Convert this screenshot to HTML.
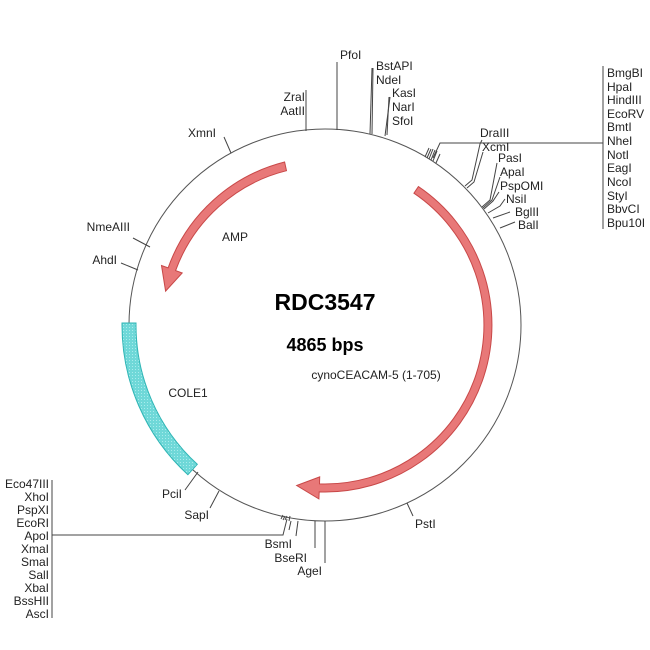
<!DOCTYPE html>
<html><head><meta charset="utf-8"><style>
html,body{margin:0;padding:0;background:#fff;}
svg{display:block;}
text{font-family:"Liberation Sans",Arial,sans-serif;font-size:12px;fill:#222;}
</style></head><body>
<svg width="650" height="650" viewBox="0 0 650 650" xmlns="http://www.w3.org/2000/svg">
<defs>
<pattern id="dots" width="3" height="3" patternUnits="userSpaceOnUse">
<rect width="3" height="3" fill="#6fd8d8"/><rect width="1" height="1" fill="#a8ecec"/>
</pattern>
</defs>
<circle cx="325" cy="325" r="196" fill="none" stroke="#555" stroke-width="1"/>

<path d="M284.6,162 A167,167 0 0 0 168.1,267.9 L161.5,265.5 L165.6,291.1 L182.2,273 L175.6,270.6 A159,159 0 0 1 286.5,170.7 Z" fill="#e87878" stroke="#c84848" stroke-width="1"/>
<path d="M418.4,186.6 A167,167 0 0 1 319.2,491.9 L318.9,498.9 L296.7,485.5 L319.7,476.9 L319.5,483.9 A159,159 0 0 0 413.9,193.2 Z" fill="#e87878" stroke="#c84848" stroke-width="1"/>
<path d="M122,323 A203,203 0 0 0 187.9,474.7 L197.3,464.3 A189,189 0 0 1 136,323 Z" fill="url(#dots)" stroke="#2fb5b5" stroke-width="1"/>

<g stroke="#444" stroke-width="1" fill="none">
<line x1="337" y1="62" x2="337" y2="130"/>
<line x1="306" y1="90" x2="306" y2="131"/>
<line x1="372" y1="68" x2="370" y2="134"/>
<line x1="373" y1="68" x2="372" y2="134"/>
<line x1="389" y1="97" x2="387" y2="135"/>
<line x1="390" y1="97" x2="385" y2="136"/>
<line x1="231" y1="153" x2="224" y2="137"/>
<line x1="425" y1="157" x2="429" y2="148"/>
<line x1="427" y1="158" x2="431" y2="149"/>
<line x1="429" y1="159" x2="433" y2="149"/>
<line x1="431" y1="160" x2="435" y2="150"/>
<line x1="433" y1="161" x2="437" y2="151"/>
<line x1="436" y1="163" x2="440" y2="154"/>
<polyline points="433,158 440,143 603,143"/>
<line x1="603" y1="66" x2="603" y2="229"/>
<polyline points="465,186 472,180 480,144 482,140"/>
<polyline points="467,188 474,182 483,152"/>
<polyline points="482,207 490,200 497,163"/>
<polyline points="483,208 492,200 500,177"/>
<polyline points="484,209 493,201 499,192"/>
<polyline points="488,213 500,206 505,199"/>
<polyline points="493,218 510,212"/>
<polyline points="500,228 515,222"/>
<line x1="150" y1="247" x2="133" y2="238"/>
<line x1="138" y1="270" x2="121" y2="263"/>
<line x1="198" y1="472" x2="185" y2="490"/>
<line x1="219" y1="491" x2="210" y2="508"/>
<line x1="52" y1="480" x2="52" y2="618"/>
<polyline points="52,535 283,535 287,519"/>
<line x1="281" y1="519" x2="283" y2="515"/>
<line x1="283" y1="520" x2="285" y2="516"/>
<line x1="285" y1="520" x2="287" y2="516"/>
<line x1="289" y1="521" x2="290" y2="516"/>
<line x1="291" y1="521" x2="289" y2="530"/>
<line x1="298" y1="521" x2="296" y2="536"/>
<line x1="315" y1="521" x2="315" y2="548"/>
<line x1="325" y1="521" x2="325" y2="563"/>
<line x1="407" y1="503" x2="413" y2="516"/>
</g>

<text x="340" y="59">PfoI</text>
<text x="305" y="101" text-anchor="end">ZraI</text>
<text x="305" y="115" text-anchor="end">AatII</text>
<text x="376" y="70">BstAPI</text>
<text x="376" y="84">NdeI</text>
<text x="392" y="97">KasI</text>
<text x="392" y="111">NarI</text>
<text x="392" y="125">SfoI</text>
<text x="188" y="137">XmnI</text>
<text x="480" y="137">DraIII</text>
<text x="482" y="151">XcmI</text>
<text x="498" y="162">PasI</text>
<text x="500" y="176">ApaI</text>
<text x="500" y="190">PspOMI</text>
<text x="506" y="203">NsiI</text>
<text x="515" y="216">BglII</text>
<text x="518" y="229">BalI</text>
<g>
<text x="607" y="77">BmgBI</text>
<text x="607" y="91">HpaI</text>
<text x="607" y="104">HindIII</text>
<text x="607" y="118">EcoRV</text>
<text x="607" y="131">BmtI</text>
<text x="607" y="145">NheI</text>
<text x="607" y="159">NotI</text>
<text x="607" y="172">EagI</text>
<text x="607" y="186">NcoI</text>
<text x="607" y="200">StyI</text>
<text x="607" y="213">BbvCI</text>
<text x="607" y="227">Bpu10I</text>
</g>
<text x="130" y="231" text-anchor="end">NmeAIII</text>
<text x="117" y="264" text-anchor="end">AhdI</text>
<text x="235" y="241" text-anchor="middle">AMP</text>
<text x="188" y="397" text-anchor="middle">COLE1</text>
<text x="376" y="379" text-anchor="middle">cynoCEACAM-5 (1-705)</text>
<text x="325" y="310" text-anchor="middle" style="font-size:23px;font-weight:bold;fill:#000">RDC3547</text>
<text x="325" y="351" text-anchor="middle" style="font-size:18px;font-weight:bold;fill:#000">4865 bps</text>
<text x="182" y="498" text-anchor="end">PciI</text>
<text x="209" y="519" text-anchor="end">SapI</text>
<text x="292" y="548" text-anchor="end">BsmI</text>
<text x="307" y="562" text-anchor="end">BseRI</text>
<text x="322" y="575" text-anchor="end">AgeI</text>
<text x="415" y="528">PstI</text>
<g text-anchor="end">
<text x="49" y="488">Eco47III</text>
<text x="49" y="501">XhoI</text>
<text x="49" y="514">PspXI</text>
<text x="49" y="527">EcoRI</text>
<text x="49" y="540">ApoI</text>
<text x="49" y="553">XmaI</text>
<text x="49" y="566">SmaI</text>
<text x="49" y="579">SalI</text>
<text x="49" y="592">XbaI</text>
<text x="49" y="605">BssHII</text>
<text x="49" y="618">AscI</text>
</g>
</svg>
</body></html>
